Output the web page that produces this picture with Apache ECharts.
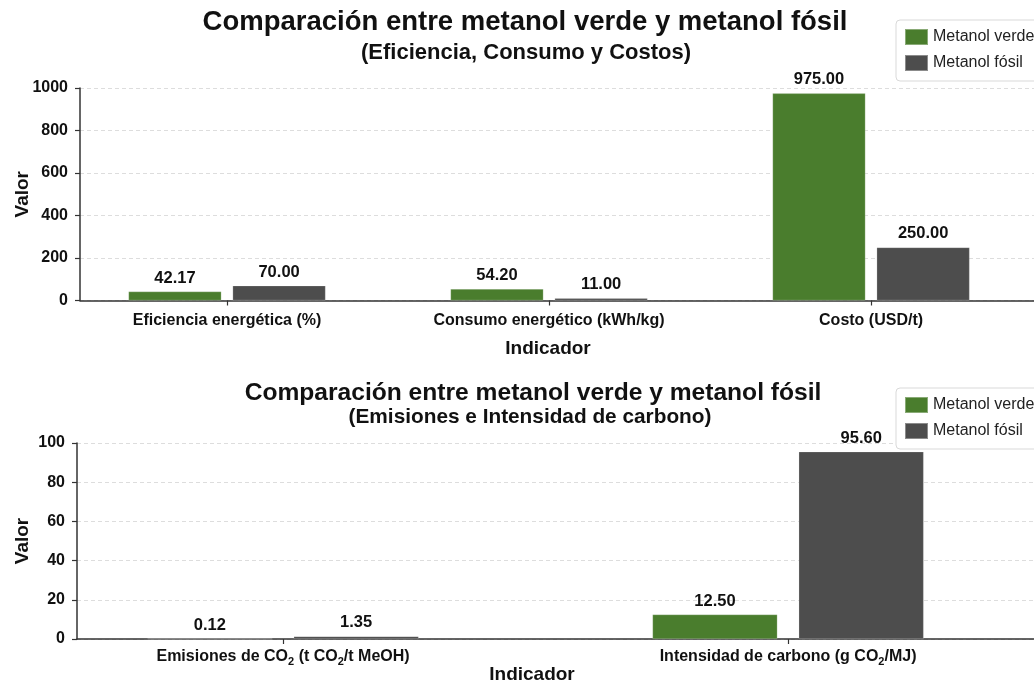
<!DOCTYPE html>
<html>
<head>
<meta charset="utf-8">
<script src="https://cdn.jsdelivr.net/npm/echarts@6/dist/echarts.min.js"></script>
<style>
  html, body { margin: 0; padding: 0; background: #ffffff; }
  #chart { width: 1034px; height: 683px; }
</style>
</head>
<body>
<div id="chart"></div>
<script>
// Panel 1: efficiency, consumption and cost
const topCategories = ['Eficiencia energética (%)', 'Consumo energético (kWh/kg)', 'Costo (USD/t)'];
const topVerde = [42.17, 54.20, 975.00];
const topFosil = [70.00, 11.00, 250.00];
const topTicks = [0, 200, 400, 600, 800, 1000];

// Panel 2: emissions and carbon intensity
const bottomCategories = ['Emisiones de CO₂ (t CO₂/t MeOH)', 'Intensidad de carbono (g CO₂/MJ)'];
const bottomVerde = [0.12, 12.50];
const bottomFosil = [1.35, 95.60];
const bottomTicks = [0, 20, 40, 60, 80, 100];

const seriesNames = ['Metanol verde', 'Metanol fósil'];
const GREEN = '#4a7d2d';
const GRAY = '#4d4d4d';
const FONT = '"Liberation Sans", Arial, Helvetica, sans-serif';
const INK = '#111111';

// Turn "CO₂" into rich-text subscripts
function subscript(name) {
  return name.split('₂').join('{s|2}');
}

function xAxisFor(gridIndex, categories, min, max, labelMargin, nameGap, namePadRight) {
  const idx = categories.map((_, i) => i);
  return {
    type: 'value',
    gridIndex: gridIndex,
    min: min,
    max: max,
    name: 'Indicador',
    nameLocation: 'middle',
    nameGap: nameGap,
    nameMoveOverlap: false,
    nameTextStyle: { fontFamily: FONT, fontSize: 19, fontWeight: 'bold', color: INK, padding: [0, namePadRight, 0, 0] },
    axisLine: { show: true, onZero: false, lineStyle: { color: '#333', width: 1.5 } },
    axisTick: { show: true, customValues: idx, length: 5, lineStyle: { color: '#333', width: 1.2 } },
    axisLabel: {
      customValues: idx,
      margin: labelMargin,
      fontFamily: FONT, fontSize: 16, fontWeight: 'bold', color: INK,
      lineHeight: 20,
      formatter: v => subscript(categories[Math.round(v)] || ''),
      rich: {
        s: { fontFamily: FONT, fontSize: 11, fontWeight: 'bold', color: INK, lineHeight: 11, verticalAlign: 'bottom' }
      }
    },
    splitLine: { show: false }
  };
}

function yAxisFor(gridIndex, ticks, nameGap) {
  return {
    type: 'value',
    gridIndex: gridIndex,
    min: ticks[0],
    max: ticks[ticks.length - 1],
    interval: ticks[1] - ticks[0],
    name: 'Valor',
    nameLocation: 'middle',
    nameGap: nameGap,
    nameMoveOverlap: false,
    nameTextStyle: { fontFamily: FONT, fontSize: 19, fontWeight: 'bold', color: INK },
    axisLine: { show: true, onZero: false, lineStyle: { color: '#333', width: 1.5 } },
    axisTick: { show: true, length: 5, lineStyle: { color: '#333', width: 1.2 } },
    axisLabel: {
      margin: 12, fontFamily: FONT, fontSize: 16, fontWeight: 'bold', color: INK,
      formatter: v => String(v)
    },
    splitLine: { show: true, lineStyle: { color: '#d4d4d4', width: 0.8, type: [4, 3] } }
  };
}

function barSeries(name, values, color, axisIndex, barWidth, barGap) {
  return {
    type: 'bar',
    name: name,
    xAxisIndex: axisIndex,
    yAxisIndex: axisIndex,
    data: values.map((v, i) => [i, v]),
    barWidth: barWidth,
    barGap: barGap,
    itemStyle: { color: color, borderColor: 'rgba(255,255,255,0.35)', borderWidth: 0.6 },
    label: {
      show: true,
      position: 'top',
      distance: 5,
      fontFamily: FONT, fontSize: 16.5, fontWeight: 'bold', color: INK,
      formatter: p => p.value[1].toFixed(2)
    },
    emphasis: { disabled: true }
  };
}

function legendAt(top) {
  return {
    orient: 'vertical',
    left: 896,
    top: top,
    data: seriesNames,
    icon: 'rect',
    itemWidth: 23,
    itemHeight: 16,
    itemGap: 8,
    padding: [8, 12, 9, 8],
    backgroundColor: '#ffffff',
    borderColor: '#d9d9d9',
    borderWidth: 1,
    borderRadius: 4,
    textStyle: { fontFamily: FONT, fontSize: 16, color: '#222' },
    selectedMode: false
  };
}

function titleText(text, x, y, size) {
  return {
    type: 'text',
    x: x,
    y: y,
    silent: true,
    style: {
      text: text,
      fontFamily: FONT,
      fontSize: size,
      fontWeight: 'bold',
      fill: INK,
      align: 'center',
      verticalAlign: 'middle'
    }
  };
}

const chart = echarts.init(document.getElementById('chart'), null, { renderer: 'canvas' });

chart.setOption({
  backgroundColor: '#ffffff',
  animation: false,
  graphic: [
    titleText('Comparación entre metanol verde y metanol fósil', 525, 22, 27.5),
    titleText('(Eficiencia, Consumo y Costos)', 526, 53, 22),
    titleText('Comparación entre metanol verde y metanol fósil', 533, 393, 24.6),
    titleText('(Emisiones e Intensidad de carbono)', 530, 417, 20.8)
  ],
  legend: [legendAt(20), legendAt(388)],
  // Both panels run to the right edge of the canvas
  grid: [
    { left: 80, top: 88, right: 0, height: 212.5, outerBoundsMode: 'none' },
    { left: 77, top: 443, right: 0, height: 196, outerBoundsMode: 'none' }
  ],
  xAxis: [
    xAxisFor(0, topCategories, -0.4565, 2.506, 10, 39, 18),
    xAxisFor(1, bottomCategories, -0.408, 1.487, 8, 26, 47)
  ],
  yAxis: [
    yAxisFor(0, topTicks, 48),
    yAxisFor(1, bottomTicks, 45)
  ],
  series: [
    barSeries(seriesNames[0], topVerde, GREEN, 0, 93, '12%'),
    barSeries(seriesNames[1], topFosil, GRAY, 0, 93, '12%'),
    barSeries(seriesNames[0], bottomVerde, GREEN, 1, 125, '17%'),
    barSeries(seriesNames[1], bottomFosil, GRAY, 1, 125, '17%')
  ]
});
</script>
</body>
</html>
